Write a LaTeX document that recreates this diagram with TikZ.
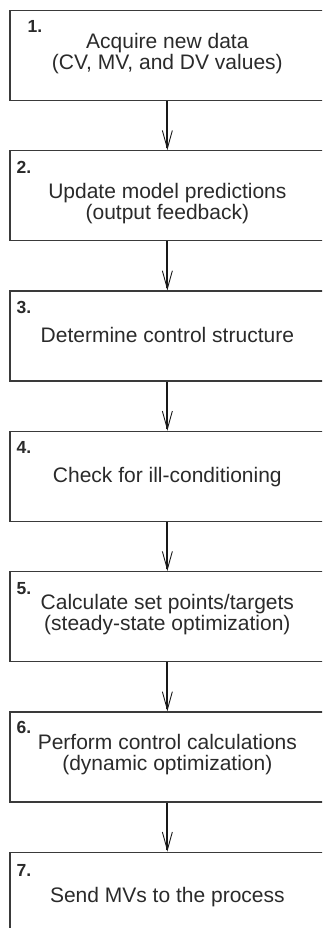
\documentclass[tikz,border=0pt]{standalone}
\usepackage{fontspec}
\setmainfont{Liberation Sans}
\usetikzlibrary{positioning,arrows.meta}

\definecolor{boxgray}{HTML}{3A3A3A}
\definecolor{inkgray}{HTML}{2A2A2A}

\tikzset{
  stepbox/.style={draw=boxgray, line width=1.3pt, minimum width=340pt,
    minimum height=90pt, inner sep=0pt},
  stepnum/.style={anchor=base west, inner sep=0pt, text=inkgray,
    font=\fontsize{17.5}{17.5}\selectfont\bfseries},
  steptext/.style={anchor=base, align=center, inner sep=0pt, text=inkgray,
    font=\fontsize{21}{21}\selectfont},
  flow/.style={line width=2pt, draw=black!90,
    -{Straight Barb[length=18pt,width=10pt,line width=0.9pt]}}
}

\begin{document}
\begin{tikzpicture}
  \useasboundingbox (0,0) rectangle (322pt,-928pt);
  \clip (0,0) rectangle (322pt,-928pt);
  % the seven steps, one under the other (right side runs off the page)
  \node[stepbox] (b1) at (180pt,-55.5pt) {};
  \node[stepbox, below=49pt of b1] (b2) {};
  \node[stepbox, below=49pt of b2] (b3) {};
  \node[stepbox, below=49pt of b3] (b4) {};
  \node[stepbox, below=49pt of b4] (b5) {};
  \node[stepbox, below=49pt of b5] (b6) {};
  \node[stepbox, below=49pt of b6] (b7) {};

  \node[stepnum] (n1) at ([shift={(18pt,-23pt)}]b1.north west) {1.};
  \node[stepnum] (n2) at ([shift={(7pt,-23pt)}]b2.north west) {2.};
  \node[stepnum] (n3) at ([shift={(7pt,-23pt)}]b3.north west) {3.};
  \node[stepnum] (n4) at ([shift={(7pt,-23pt)}]b4.north west) {4.};
  \node[stepnum] (n5) at ([shift={(7pt,-23pt)}]b5.north west) {5.};
  \node[stepnum] (n6) at ([shift={(7pt,-22pt)}]b6.north west) {6.};
  \node[stepnum] (n7) at ([shift={(7pt,-25pt)}]b7.north west) {7.};

  % base of a two-line text is its last line
  \node[steptext] (t1) at ([shift={(158pt,-60pt)}]b1.north west) {Acquire new data\\(CV, MV, and DV values)};
  \node[steptext] (t2) at ([shift={(158pt,-69pt)}]b2.north west) {Update model predictions\\(output feedback)};
  \node[steptext] (t3) at ([shift={(158pt,-52pt)}]b3.north west) {Determine control structure};
  \node[steptext] (t4) at ([shift={(158pt,-52pt)}]b4.north west) {Check for ill-conditioning};
  \node[steptext] (t5) at ([shift={(158pt,-59pt)}]b5.north west) {Calculate set points/targets\\(steady-state optimization)};
  \node[steptext] (t6) at ([shift={(158pt,-59pt)}]b6.north west) {Perform control calculations\\(dynamic optimization)};
  \node[steptext] (t7) at ([shift={(158pt,-51pt)}]b7.north west) {Send MVs to the process};

  \foreach \a/\b in {b1/b2,b2/b3,b3/b4,b4/b5,b5/b6,b6/b7}
    \draw[flow] ([xshift=158pt]\a.south west) -- ([xshift=158pt]\b.north west);
\end{tikzpicture}
\end{document}
